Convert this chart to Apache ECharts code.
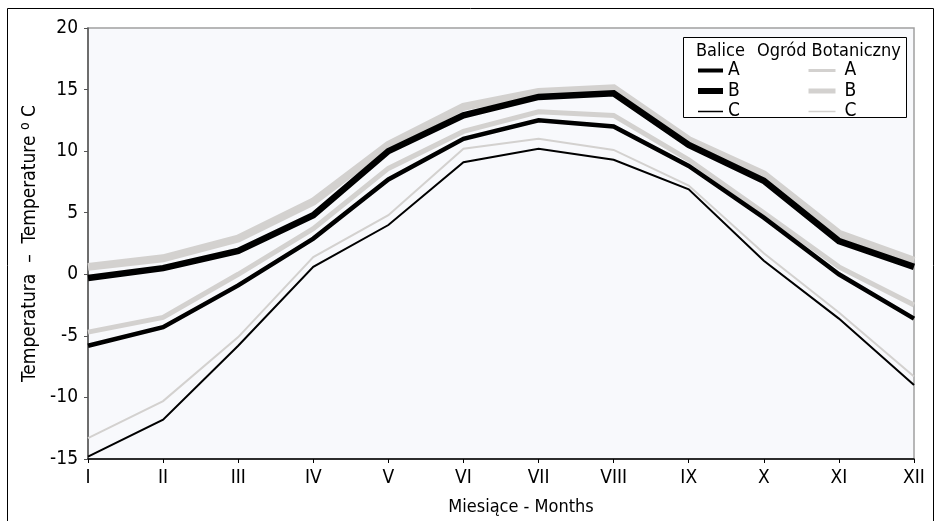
<!DOCTYPE html>
<html>
<head>
<meta charset="utf-8">
<script src="https://cdn.jsdelivr.net/npm/echarts@6/dist/echarts.min.js"></script>
<style>
  html, body { margin: 0; padding: 0; background: #fff; }
  #chart { width: 939px; height: 521px; }
</style>
</head>
<body>
<div id="chart"></div>
<script>
var months = ['I', 'II', 'III', 'IV', 'V', 'VI', 'VII', 'VIII', 'IX', 'X', 'XI', 'XII'];

// Balice
var baliceA = [-5.8, -4.3, -0.9, 2.9, 7.7, 11.0, 12.5, 12.0, 8.8, 4.6, 0.0, -3.6];
var baliceB = [-0.3, 0.5, 1.9, 4.8, 10.0, 12.9, 14.4, 14.7, 10.5, 7.6, 2.7, 0.6];
var baliceC = [-14.8, -11.8, -5.8, 0.6, 4.0, 9.1, 10.2, 9.3, 6.9, 1.1, -3.6, -9.0];

// Ogród Botaniczny
var ogrodA = [-4.7, -3.5, 0.0, 3.7, 8.6, 11.6, 13.2, 12.9, 9.3, 5.0, 0.6, -2.5];
var ogrodB = [0.6, 1.3, 2.9, 5.9, 10.5, 13.6, 14.8, 15.1, 10.9, 8.1, 3.3, 1.1];
var ogrodC = [-13.3, -10.3, -5.1, 1.4, 4.8, 10.2, 11.0, 10.1, 7.2, 1.7, -3.1, -8.3];

var font = '"DejaVu Sans Condensed", "Liberation Sans", sans-serif';
var grey = '#d3d1cf';

var chart = echarts.init(document.getElementById('chart'));

function line(name, data, color, width) {
  return {
    name: name,
    type: 'line',
    data: data,
    symbol: 'none',
    showSymbol: false,
    silent: true,
    lineStyle: { color: color, width: width, join: 'miter' },
    itemStyle: { color: color }
  };
}

function legendBlock(items, left, width, pad) {
  return {
    data: items.map(function (it) {
      return { name: it[0], lineStyle: { width: it[1] } };
    }),
    orient: 'vertical',
    left: left, top: 56,
    z: 10,
    itemWidth: width, itemHeight: 14, itemGap: 1.5,
    selectedMode: false,
    itemStyle: { opacity: 0 },
    formatter: function (n) { return n.slice(-1); },
    textStyle: { color: '#000', fontSize: 19, fontFamily: font, padding: [0, 0, 0, pad] }
  };
}

var option = {
  backgroundColor: '#fff',
  animation: false,
  textStyle: { fontFamily: font },
  grid: {
    left: 88, right: 25, top: 28, bottom: 60,
    show: true,
    backgroundColor: '#f8f9fc',
    borderColor: '#a0a0a0',
    borderWidth: 1.5
  },
  xAxis: {
    type: 'category',
    data: months,
    boundaryGap: false,
    name: 'Miesiące - Months',
    nameLocation: 'middle',
    nameGap: 39,
    nameTextStyle: { color: '#000', fontSize: 18, fontFamily: font, padding: [0, 0, 0, 40] },
    axisLine: { onZero: false, lineStyle: { color: '#000', width: 1.5 } },
    axisTick: { lineStyle: { color: '#000' }, length: 4 },
    axisLabel: { color: '#000', fontSize: 19, fontFamily: font, margin: 10 },
    splitLine: { show: false }
  },
  yAxis: {
    type: 'value',
    min: -15,
    max: 20,
    interval: 5,
    name: 'Temperatura  \u2013  Temperature {sup|o} C',
    nameLocation: 'middle',
    nameGap: 42,
    nameTextStyle: {
      color: '#000', fontSize: 19, fontFamily: font,
      rich: { sup: { fontSize: 14, fontFamily: font, color: '#000', padding: [0, 0, 8, 0] } }
    },
    axisLine: { show: true, lineStyle: { color: '#555', width: 1.5 } },
    axisTick: { show: true, lineStyle: { color: '#555' }, length: 4 },
    axisLabel: { color: '#000', fontSize: 19, fontFamily: font, margin: 10 },
    splitLine: { show: false }
  },
  legend: [
    legendBlock([['Balice A', 4], ['Balice B', 6], ['Balice C', 1.5]], 690, 25, 0),
    legendBlock([['Ogród A', 3], ['Ogród B', 5], ['Ogród C', 1.5]], 801, 27, 4)
  ],
  graphic: [
    {
      type: 'rect', z: -10,
      shape: { x: 7.5, y: 8.5, width: 926, height: 540 },
      style: { fill: 'none', stroke: '#000', lineWidth: 1 }
    },
    {
      type: 'rect', z: 5,
      shape: { x: 683.5, y: 37.5, width: 223, height: 80 },
      style: { fill: '#fff', stroke: '#000', lineWidth: 1 }
    },
    {
      type: 'text', z: 6, left: 696, top: 42,
      style: { text: 'Balice', fontSize: 18, fontFamily: font, fill: '#000' }
    },
    {
      type: 'text', z: 6, left: 757, top: 42,
      style: { text: 'Ogród Botaniczny', fontSize: 18, fontFamily: font, fill: '#000' }
    }
  ],
  series: [
    line('Ogród B', ogrodB, grey, 8),
    line('Ogród A', ogrodA, grey, 5),
    line('Ogród C', ogrodC, grey, 2),
    line('Balice B', baliceB, '#000', 6.5),
    line('Balice A', baliceA, '#000', 4.5),
    line('Balice C', baliceC, '#000', 2)
  ]
};

chart.setOption(option);
</script>
</body>
</html>
